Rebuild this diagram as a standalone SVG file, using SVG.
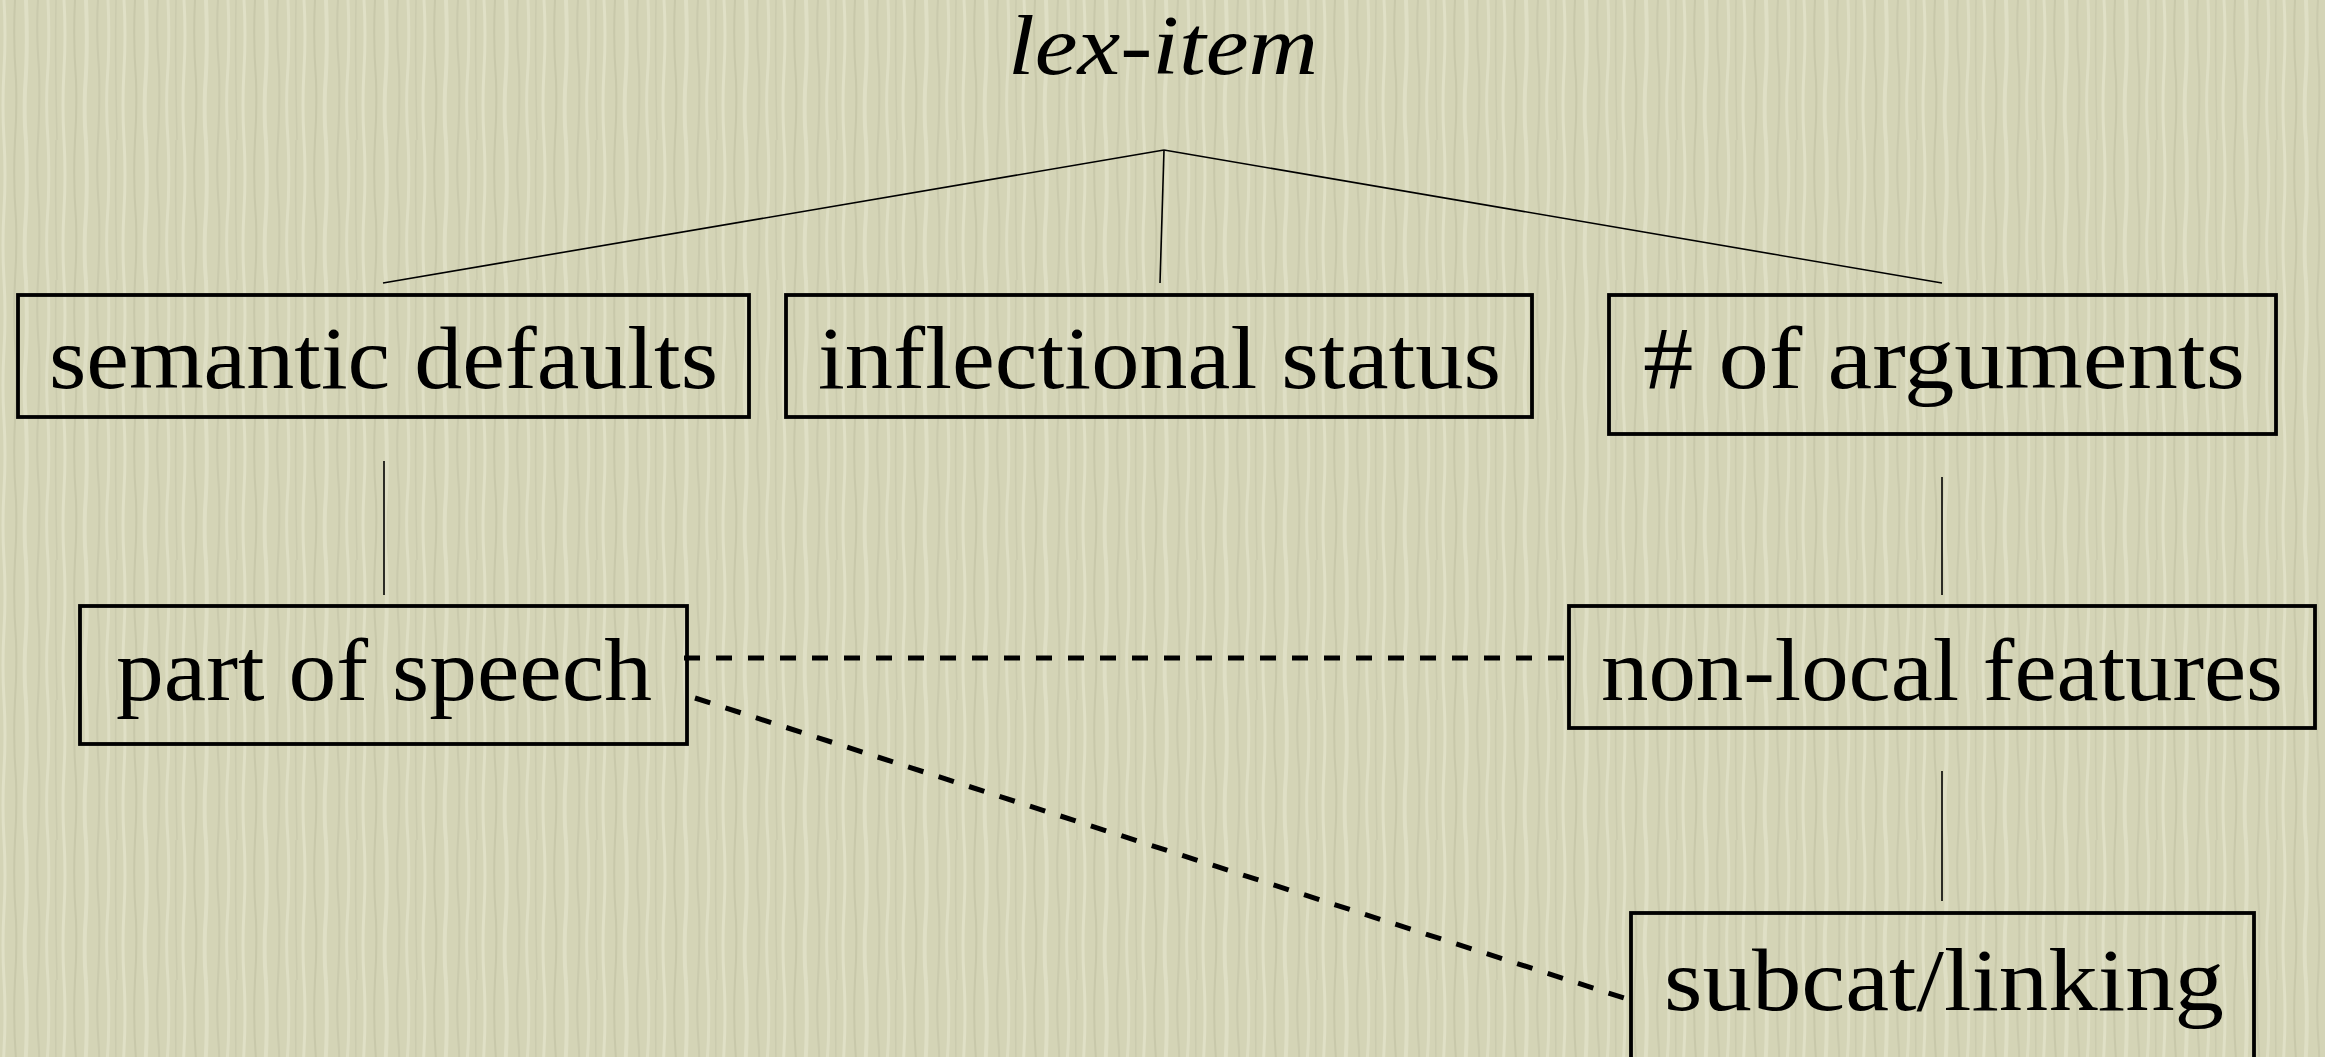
<svg xmlns="http://www.w3.org/2000/svg" width="2325" height="1057" viewBox="0 0 2325 1057">
  <defs>
    <pattern id="paper" x="0" y="0" width="60" height="140" patternUnits="userSpaceOnUse">
      <rect width="60" height="140" fill="#d4d4b6"/>
      <path d="M4 0 Q6 35 4 70 Q2 105 4 140" stroke="#e0e0c6" stroke-width="3" fill="none"/>
      <path d="M15 0 Q13 40 16 80 Q17 110 15 140" stroke="#c8c8aa" stroke-width="2" fill="none"/>
      <path d="M26 0 Q28 50 25 90 Q24 120 26 140" stroke="#dfdfc5" stroke-width="4" fill="none"/>
      <path d="M38 0 Q36 30 39 70 Q40 100 38 140" stroke="#cacaad" stroke-width="2" fill="none"/>
      <path d="M48 0 Q50 45 47 85 Q46 115 48 140" stroke="#dedec4" stroke-width="3" fill="none"/>
      <path d="M56 0 Q55 60 57 140" stroke="#cbcbae" stroke-width="1.5" fill="none"/>
    </pattern>
    <style>
      .box { fill: none; stroke: #000; stroke-width: 3.8; }
      .lbl { font-family: "Liberation Serif", "Times New Roman", serif; font-size: 88px; fill: #000; }
      .top { font-family: "Liberation Serif", "Times New Roman", serif; font-size: 84px; font-style: italic; fill: #000; }
      .edge { stroke: #000; stroke-width: 1.6; fill: none; }
      .dash { stroke: #000; stroke-width: 5; fill: none; stroke-dasharray: 16 16; }
    </style>
  </defs>
  <rect width="2325" height="1057" fill="url(#paper)"/>

  <g id="connectors">
    <line class="edge" x1="1164" y1="150" x2="383" y2="283"/>
    <line class="edge" x1="1164" y1="150" x2="1160" y2="283"/>
    <line class="edge" x1="1164" y1="150" x2="1942" y2="283"/>
    <line class="edge" x1="384" y1="461" x2="384" y2="595"/>
    <line class="edge" x1="1942" y1="477" x2="1942" y2="595"/>
    <line class="edge" x1="1942" y1="771" x2="1942" y2="901"/>
    <line class="dash" x1="684" y1="658" x2="1569" y2="658"/>
    <line class="dash" x1="695" y1="698" x2="1624" y2="998"/>
  </g>

  <g id="lex-item">
    <text class="top" x="1008" y="74" textLength="310" lengthAdjust="spacingAndGlyphs">lex-item</text>
  </g>

  <g id="semantic-defaults">
    <rect class="box" x="18" y="295" width="731" height="122"/>
    <text class="lbl" x="49" y="388" textLength="669" lengthAdjust="spacingAndGlyphs">semantic defaults</text>
  </g>

  <g id="inflectional-status">
    <rect class="box" x="786" y="295" width="746" height="122"/>
    <text class="lbl" x="818" y="388" textLength="683" lengthAdjust="spacingAndGlyphs">inflectional status</text>
  </g>

  <g id="num-arguments">
    <rect class="box" x="1609" y="295" width="667" height="139"/>
    <text class="lbl" x="1643" y="388" textLength="602" lengthAdjust="spacingAndGlyphs"># of arguments</text>
  </g>

  <g id="part-of-speech">
    <rect class="box" x="80" y="606" width="607" height="138"/>
    <text class="lbl" x="116" y="700" textLength="536" lengthAdjust="spacingAndGlyphs">part of speech</text>
  </g>

  <g id="non-local-features">
    <rect class="box" x="1569" y="606" width="746" height="122"/>
    <text class="lbl" x="1601" y="700" textLength="682" lengthAdjust="spacingAndGlyphs">non-local features</text>
  </g>

  <g id="subcat-linking">
    <rect class="box" x="1631" y="913" width="623" height="160"/>
    <text class="lbl" x="1664" y="1010" textLength="560" lengthAdjust="spacingAndGlyphs">subcat/linking</text>
  </g>
</svg>
